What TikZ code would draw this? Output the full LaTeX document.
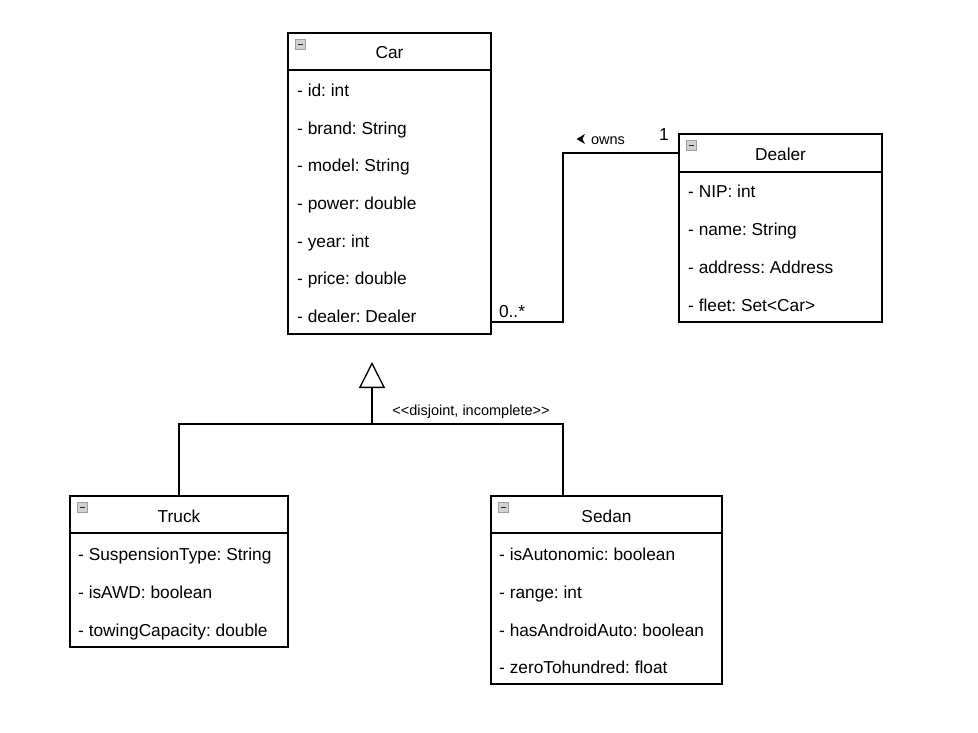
\documentclass[tikz,border=0pt]{standalone}
\usepackage{fontspec}
\setmainfont{Liberation Sans}
\frenchspacing
\usetikzlibrary{arrows.meta}
\tikzset{
  umlbox/.style={draw=black, line width=1.3pt, fill=white, inner sep=0pt, rectangle},
  title/.style={font=\fontsize{17.3}{20}\selectfont, inner sep=0pt, anchor=base},
  attr/.style={font=\fontsize{17.3}{20}\selectfont, inner sep=0pt, anchor=base west},
  small/.style={font=\fontsize{14.5}{17}\selectfont, inner sep=0pt, anchor=base},
  conn/.style={draw=black, line width=1.3pt},
  icon/.style={draw=gray!75, fill=gray!35, line width=1pt}
}
\newcommand{\umlicon}[2]{%
  \draw[icon] (#1+7.5,#2+6.5) rectangle (#1+17,#2+16.5);
  \draw[black!85, line width=1.8pt] (#1+9.5,#2+11.5) -- (#1+15,#2+11.5);
}
\begin{document}
\begin{tikzpicture}[x=1pt,y=-1pt]
\useasboundingbox (0,0) rectangle (978,732);

% Car
\node[umlbox, minimum width=203pt, minimum height=301pt] (car) at (389.5,183.5) {};
\draw[conn] (288,70) -- (491,70);
\umlicon{288}{33}
\node[title] (carT) at (389.5,58) {Car};
\node[attr] (c1) at (297,96) {- id: int};
\node[attr] (c2) at (297,134) {- brand: String};
\node[attr] (c3) at (297,171.5) {- model: String};
\node[attr] (c4) at (297,209) {- power: double};
\node[attr] (c5) at (297,247) {- year: int};
\node[attr] (c6) at (297,284.5) {- price: double};
\node[attr] (c7) at (297,322) {- dealer: Dealer};

% Dealer
\node[umlbox, minimum width=203pt, minimum height=188pt] (dealer) at (780.5,228) {};
\draw[conn] (679,172) -- (882,172);
\umlicon{679}{134}
\node[title] (dealerT) at (780.5,160) {Dealer};
\node[attr] (d1) at (688,197) {- NIP: int};
\node[attr] (d2) at (688,235) {- name: String};
\node[attr] (d3) at (688,273) {- address: Address};
\node[attr] (d4) at (688,311) {- fleet: Set{<}Car{>}};

% Truck
\node[umlbox, minimum width=218pt, minimum height=151pt] (truck) at (179,571.5) {};
\draw[conn] (70,533) -- (288,533);
\umlicon{70}{496}
\node[title] (truckT) at (179,522) {Truck};
\node[attr] (t1) at (78,560) {- SuspensionType: String};
\node[attr] (t2) at (78,598) {- isAWD: boolean};
\node[attr] (t3) at (78,636) {- towingCapacity: double};

% Sedan
\node[umlbox, minimum width=231pt, minimum height=188pt] (sedan) at (606.5,590) {};
\draw[conn] (491,533) -- (722,533);
\umlicon{491}{496}
\node[title] (sedanT) at (606.5,522) {Sedan};
\node[attr] (s1) at (499,560) {- isAutonomic: boolean};
\node[attr] (s2) at (499,598) {- range: int};
\node[attr] (s3) at (499,636) {- hasAndroidAuto: boolean};
\node[attr] (s4) at (499,673) {- zeroTohundred: float};

% Association
\coordinate (assocCar) at (car.east |- 0,322);
\coordinate (assocDealer) at (dealer.west |- 0,153);
\draw[conn] (assocCar) -- (563,322) |- (assocDealer);
\node[title] (multCar) at (512,317) {0..*};
\node[title] (multDealer) at (664,140) {1};
\fill[black] (576.5,139) -- (585,134) -- (582.4,139) -- (585,144) -- cycle;
\node[small] (owns) at (608,144) {owns};

% Generalization
\coordinate (genTip) at (372,362);
\coordinate (genHub) at (372,424);
\coordinate (truckTop) at (truck.north);
\coordinate (sedanTop) at (563,496);
\draw[conn, -{Triangle[open, length=26pt, width=26pt, line width=1.3pt]}] (genHub) -- (genTip);
\draw[conn] (truckTop) |- (genHub) -| (sedanTop);
\node[small] (genLabel) at (471,415) {{<}{<}disjoint, incomplete{>}{>}};
\end{tikzpicture}
\end{document}
